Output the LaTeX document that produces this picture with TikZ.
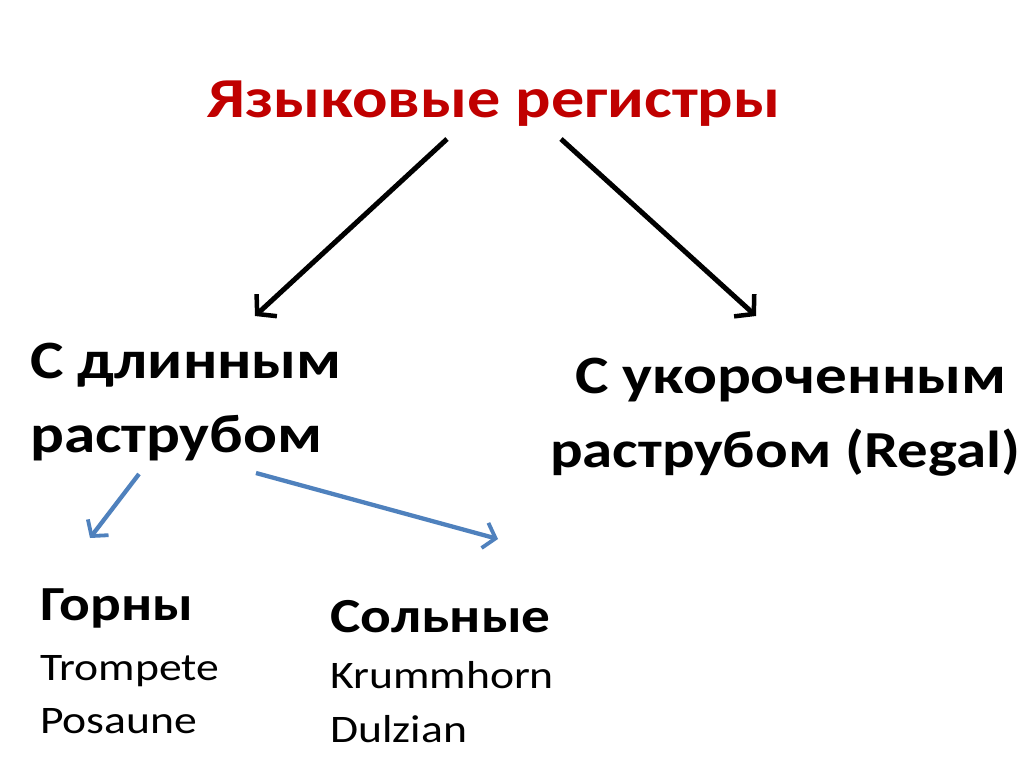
\documentclass[tikz,border=0pt]{standalone}
\usepackage{fontspec}
\setmainfont[FakeStretch=1.17]{Carlito}
\usetikzlibrary{arrows.meta}
\definecolor{titlered}{HTML}{C00000}
\definecolor{arrowblue}{HTML}{4F81BD}
\tikzset{
  txt/.style={inner sep=0pt, anchor=base west},
  headfont/.style={font=\fontsize{54}{60}\selectfont\bfseries},
  subfont/.style={font=\fontsize{49}{55}\selectfont\bfseries},
  listfont/.style={font=\fontsize{39}{45}\selectfont},
  blackarrow/.style={draw=black, line width=5pt, -{Straight Barb[length=13pt,width=30pt,line width=4.5pt]}},
  bluearrow/.style={draw=arrowblue, line width=4.3pt, -{Straight Barb[length=11pt,width=26pt,line width=3.8pt]}},
}
\begin{document}
\begin{tikzpicture}[x=1pt,y=-1pt]
\useasboundingbox (0,0) rectangle (1024,767);
\fill[white] (0,0) rectangle (1024,767);
\node[txt, text=titlered, font=\fontsize{56.5}{60}\selectfont\bfseries] (title) at (207,118) {Языковые регистры};
\node[txt, headfont] (long1) at (30,378) {С длинным};
\node[txt, headfont] (long2) at (30,452) {раструбом};
\node[txt, headfont] (short1) at (575,393) {С укороченным};
\node[txt, font=\fontsize{52}{60}\selectfont\bfseries] (short2) at (550,467) {раструбом (Regal)};
\node[txt, subfont] (horns) at (40,620) {Горны};
\node[txt, listfont] (horn1) at (40,680) {Trompete};
\node[txt, listfont] (horn2) at (40,733) {Posaune};
\node[txt, subfont] (solo) at (330,632) {Сольные};
\node[txt, listfont] (solo1) at (330,688) {Krummhorn};
\node[txt, listfont] (solo2) at (330,742) {Dulzian};
\coordinate (a1s) at (447,139);
\coordinate (a1e) at (255,316);
\coordinate (a2s) at (561,139);
\coordinate (a2e) at (756,316);
\coordinate (b1s) at (139,474);
\coordinate (b1e) at (90,538);
\coordinate (b2s) at (256,473);
\coordinate (b2e) at (498,539);
\draw[blackarrow] (a1s) -- (a1e);
\draw[blackarrow] (a2s) -- (a2e);
\draw[bluearrow] (b1s) -- (b1e);
\draw[bluearrow] (b2s) -- (b2e);
\end{tikzpicture}
\end{document}
